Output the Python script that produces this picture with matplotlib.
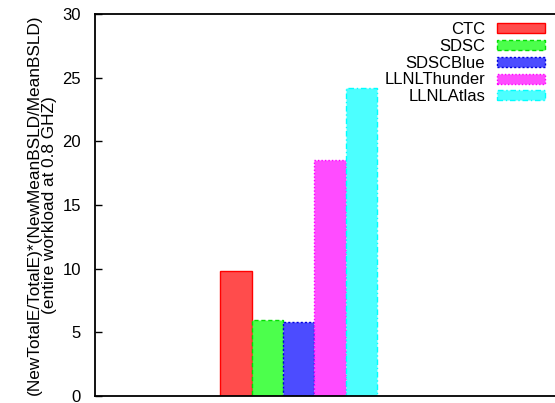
import numpy as np
import matplotlib.pyplot as plt

plt.rcParams['font.family'] = ['Liberation Sans', 'DejaVu Sans']

# one cluster of bars, one per workload
systems = ["CTC", "SDSC", "SDSCBlue", "LLNLThunder", "LLNLAtlas"]
values = [9.8, 6.0, 5.8, 18.55, 24.2]
fills = ["#ff4c4c", "#4cff4c", "#4c4cff", "#ff4cff", "#4cffff"]
edges = ["#ff0000", "#00e000", "#0000e0", "#ff00ff", "#00ffff"]
dashes = ["solid", (0, (3, 2)), (0, (1.5, 1.5)), (0, (1, 1.5)), (0, (4, 2, 1, 2))]

fig = plt.figure(figsize=(5.55, 4.03), dpi=100)
ax = fig.add_axes([95 / 555, 7 / 403, 461 / 555, 382 / 403])

x = np.arange(len(values))
for i in range(len(values)):
    ax.bar(x[i], values[i], width=1.0, color=fills[i], edgecolor=edges[i],
           linewidth=1.0, linestyle=dashes[i], label=systems[i])

ax.set_xlim(-4.49, 10.2)
ax.set_ylim(0, 30)
ax.set_yticks(range(0, 31, 5))
ax.set_xticks([])
ax.tick_params(axis='y', direction='in', length=5, width=1, labelsize=12, pad=10)
for s in ax.spines.values():
    s.set_linewidth(1.3)
ax.spines['right'].set_visible(False)

ax.set_ylabel("(NewTotalE/TotalE)*(NewMeanBSLD/MeanBSLD)\n(entire workload at 0.8 GHZ)",
              fontsize=12.4, labelpad=4, linespacing=1.0)

ax.legend(loc='upper right', bbox_to_anchor=(545 / 555, 1 - 22 / 403), bbox_transform=fig.transFigure,
          frameon=False, markerfirst=False, fontsize=12, handlelength=2.88, handleheight=0.54,
          labelspacing=0.11, handletextpad=0.72, borderpad=0, borderaxespad=0)

plt.savefig("out.png", dpi=100)
